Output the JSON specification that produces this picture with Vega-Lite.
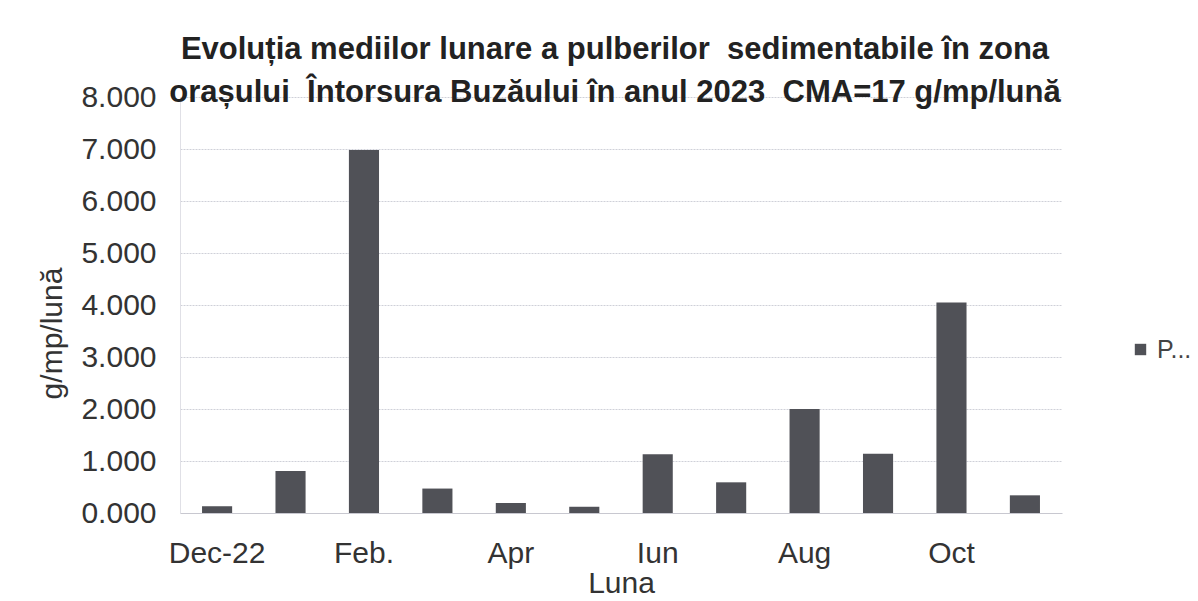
{
  "$schema": "https://vega.github.io/schema/vega-lite/v6.json",
  "width": 882,
  "height": 416,
  "autosize": {"type": "none"},
  "padding": {"left": 180, "top": 97, "right": 136, "bottom": 88},
  "background": "white",
  "title": {
    "text": ["Evoluția mediilor lunare a pulberilor\u00a0 sedimentabile în zona", "orașului\u00a0 Întorsura Buzăului în anul 2023\u00a0 CMA=17 g/mp/lună"],
    "font": "Liberation Sans",
    "fontSize": 31,
    "fontWeight": "bold",
    "color": "#222222",
    "anchor": "middle",
    "dx": -6,
    "offset": -27,
    "lineHeight": 43
  },
  "data": {
    "values": [
      {"luna": "Dec-22", "valoare": 0.13, "serie": "P..."},
      {"luna": "Ian", "valoare": 0.81, "serie": "P..."},
      {"luna": "Feb.", "valoare": 6.98, "serie": "P..."},
      {"luna": "Mar", "valoare": 0.47, "serie": "P..."},
      {"luna": "Apr", "valoare": 0.19, "serie": "P..."},
      {"luna": "Mai", "valoare": 0.12, "serie": "P..."},
      {"luna": "Iun", "valoare": 1.13, "serie": "P..."},
      {"luna": "Iul", "valoare": 0.59, "serie": "P..."},
      {"luna": "Aug", "valoare": 2.0, "serie": "P..."},
      {"luna": "Sep", "valoare": 1.14, "serie": "P..."},
      {"luna": "Oct", "valoare": 4.05, "serie": "P..."},
      {"luna": "Nov", "valoare": 0.34, "serie": "P..."}
    ]
  },
  "mark": {"type": "bar"},
  "encoding": {
    "x": {
      "field": "luna",
      "type": "nominal",
      "sort": null,
      "scale": {"paddingInner": 0.59, "paddingOuter": 0.3},
      "title": "Luna",
      "axis": {
        "values": ["Dec-22", "Feb.", "Apr", "Iun", "Aug", "Oct"],
        "labelAngle": 0,
        "labelFont": "Liberation Sans",
        "labelFontSize": 30,
        "labelColor": "#333333",
        "labelPadding": 25,
        "labelOverlap": false,
        "ticks": false,
        "domainColor": "#c8c8d0",
        "titleFont": "Liberation Sans",
        "titleFontSize": 30,
        "titleFontWeight": "normal",
        "titleColor": "#333333",
        "titlePadding": 0
      }
    },
    "y": {
      "field": "valoare",
      "type": "quantitative",
      "scale": {"domain": [0, 8]},
      "title": "g/mp/lună",
      "axis": {
        "format": ".3f",
        "values": [0, 1, 2, 3, 4, 5, 6, 7, 8],
        "labelOverlap": false,
        "labelFont": "Liberation Sans",
        "labelFontSize": 30,
        "labelColor": "#333333",
        "labelPadding": 24,
        "ticks": false,
        "domain": true,
        "domainColor": "#e0e0e6",
        "gridColor": "#cfd0d8",
        "gridDash": [2, 1],
        "titleFont": "Liberation Sans",
        "titleFontSize": 30,
        "titleFontWeight": "normal",
        "titleColor": "#333333",
        "titleX": -128,
        "titleY": 236,
        "titleBaseline": "middle",
        "titleAlign": "center"
      }
    },
    "color": {
      "field": "serie",
      "type": "nominal",
      "scale": {"range": ["#505157"]},
      "legend": {
        "title": null,
        "orient": "none",
        "legendX": 948,
        "legendY": 240,
        "symbolType": "square",
        "symbolSize": 130,
        "labelFont": "Liberation Sans",
        "labelFontSize": 25,
        "labelColor": "#444444"
      }
    }
  },
  "config": {"view": {"stroke": null}}
}
